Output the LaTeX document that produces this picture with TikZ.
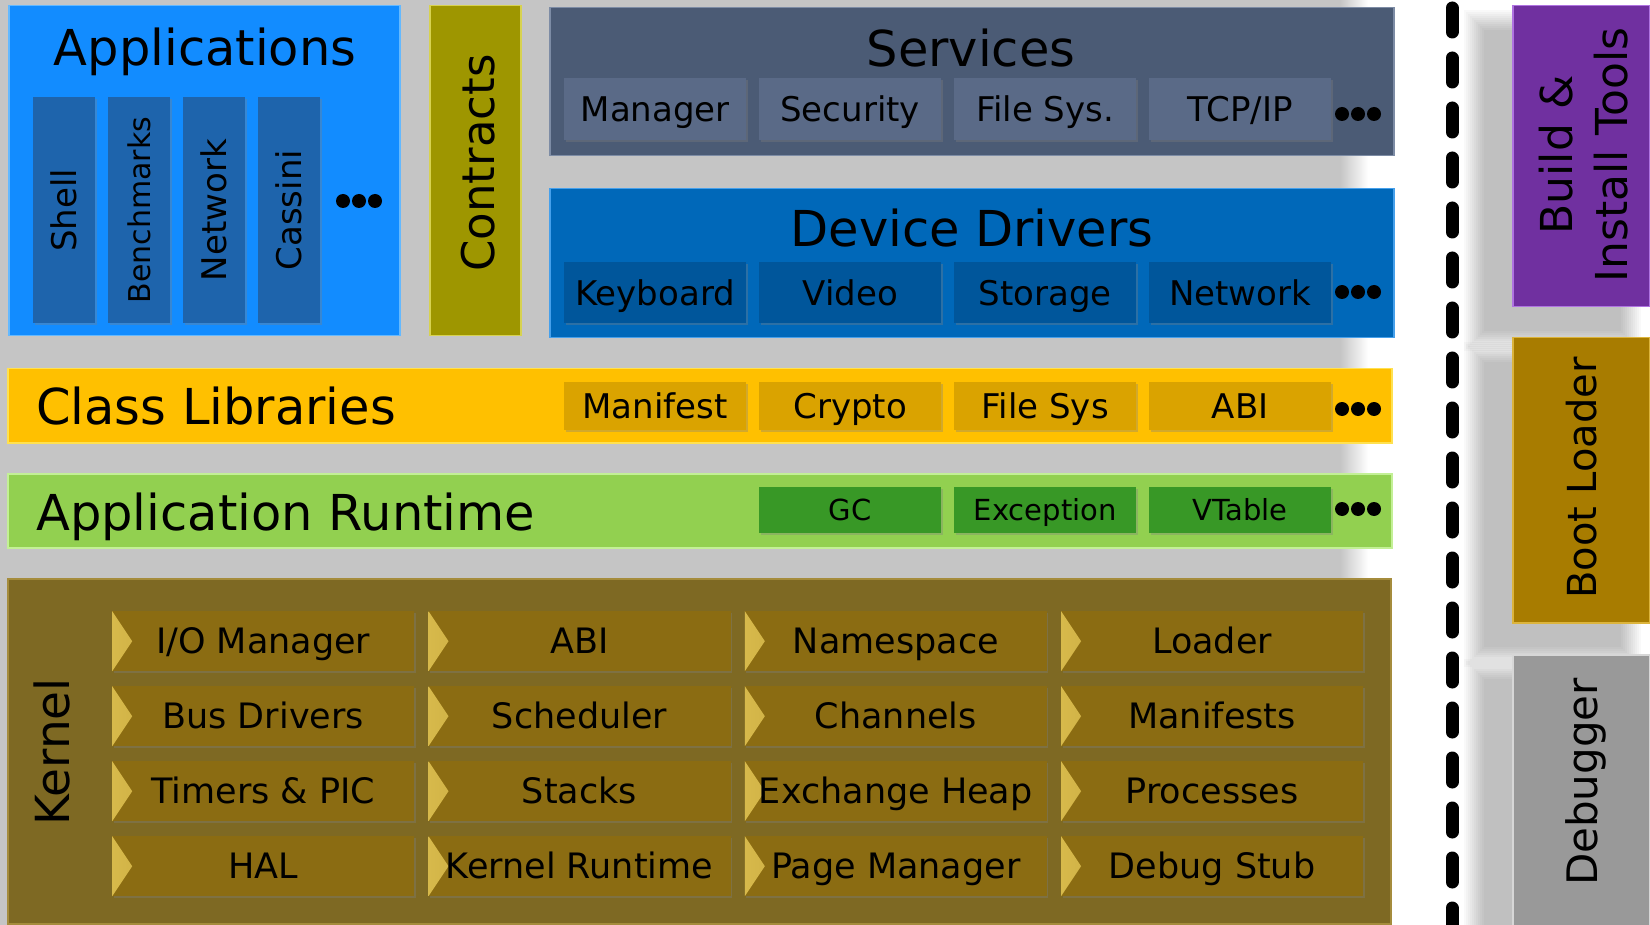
\documentclass[tikz,border=0pt]{standalone}
\usepackage{fontspec}
\setmainfont{DejaVu Sans}
\usepackage{xcolor}
\usetikzlibrary{positioning,shadows}

\definecolor{backgrey}{RGB}{197,197,197}
\definecolor{appblue}{RGB}{18,140,255}
\definecolor{appedge}{RGB}{100,185,255}
\definecolor{appsub}{RGB}{30,100,172}
\definecolor{contr}{RGB}{158,150,0}
\definecolor{contredge}{RGB}{215,210,80}
\definecolor{serv}{RGB}{75,91,117}
\definecolor{servedge}{RGB}{125,140,165}
\definecolor{servsub}{RGB}{90,106,135}
\definecolor{drv}{RGB}{0,104,185}
\definecolor{drvedge}{RGB}{70,160,235}
\definecolor{drvsub}{RGB}{0,86,155}
\definecolor{clib}{RGB}{255,192,0}
\definecolor{clibedge}{RGB}{255,225,80}
\definecolor{clibsub}{RGB}{218,163,0}
\definecolor{rt}{RGB}{146,208,80}
\definecolor{rtedge}{RGB}{195,240,150}
\definecolor{rtsub}{RGB}{56,152,38}
\definecolor{kern}{RGB}{126,105,35}
\definecolor{kernedge}{RGB}{165,140,60}
\definecolor{ksub}{RGB}{139,108,18}
\definecolor{kbevel}{RGB}{215,185,75}
\definecolor{tools}{RGB}{112,48,160}
\definecolor{toolsedge}{RGB}{175,115,225}
\definecolor{boot}{RGB}{168,124,0}
\definecolor{bootedge}{RGB}{220,180,60}
\definecolor{dbg}{RGB}{153,153,153}
\definecolor{dbgedge}{RGB}{215,215,215}

\tikzset{
  % font size plus a text height equal to its cap height
  fs/.code={\tikzset{font=\fontsize{#1}{#1}\selectfont}%
    \pgfmathsetmacro\capht{0.729*#1}\edef\fsht{\capht pt}%
    \tikzset{text height/.expanded=\fsht}},
  layer/.style={anchor=north west, inner sep=0pt, line width=1.5pt},
  part/.style={anchor=north west, inner sep=0pt, minimum width=182pt,
    text depth=0pt, fs=34,
    drop shadow={shadow xshift=1.5pt,shadow yshift=-2pt,opacity=.35}},
  apppart/.style={part, minimum width=62pt, minimum height=226pt, fill=appsub},
  kpart/.style={part, minimum width=302pt, minimum height=60pt, fill=ksub, fs=35,
    path picture={\shade[left color=kbevel,right color=ksub]
      (path picture bounding box.north west) -- ([xshift=20pt]path picture bounding box.west)
      -- (path picture bounding box.south west) -- cycle;}},
  title/.style={inner sep=0pt, text depth=0pt, fs=49.5},
  vtext/.style={title, rotate=90},
  divider/.style={line width=13pt, line cap=round, dash pattern=on 24pt off 26pt},
}

\begin{document}
\begin{tikzpicture}[x=1pt,y=-1pt]
  \useasboundingbox (0,0) rectangle (1650,925);
  \fill[white] (0,0) rectangle (1650,925);

  % grey backdrop behind the stack
  \fill[backgrey] (0,0) rectangle (1340,925);
  \shade[left color=backgrey,right color=white] (1340,0) rectangle (1368,925);

  % soft shadows of the tool boxes
  \foreach \y/\h in {5/301,337/285,654/271}
    \foreach \s in {0,2,...,20}
      \fill[black,opacity=.022] (1464+\s,\y+5+\s) rectangle (1641-\s,\y+\h+45-\s);

  % applications
  \node[layer, fill=appblue, draw=appedge, minimum width=391pt, minimum height=330pt] (apps) at (8,5) {};
  \node[title] (appsT) at (205,47) {Applications};
  \foreach \n/\t/\f [count=\i from 0] in {shell/Shell/34,bench/Benchmarks/30,net/Network/34,cass/Cassini/34}{
    \node[apppart] (\n) at (33+75*\i,97) {};
    \node[vtext, fs=\f] (\n T) at (\n.center) {\t};
  }
  \foreach \dx in {0,16,32}
    \fill (343+\dx,201) circle (7pt);

  % contracts
  \node[layer, fill=contr, draw=contredge, minimum width=91pt, minimum height=330pt] (contracts) at (429,5) {};
  \node[vtext, fs=45] (contractsT) at (478,163) {Contracts};

  % services
  \node[layer, fill=serv, draw=servedge, minimum width=844pt, minimum height=148pt] (services) at (549,7) {};
  \node[title] (servicesT) at (971,48) {Services};
  \foreach \t [count=\i from 0] in {Manager,Security,{File Sys.},{TCP/IP}}
    \node[part, fill=servsub, minimum height=62pt] (serv\i) at (564+195*\i,78) {\t};

  % device drivers
  \node[layer, fill=drv, draw=drvedge, minimum width=844pt, minimum height=149pt] (drivers) at (549,188) {};
  \node[title] (driversT) at (972,228) {Device Drivers};
  \foreach \t [count=\i from 0] in {Keyboard,Video,Storage,Network}
    \node[part, fill=drvsub, minimum height=61pt] (drv\i) at (564+195*\i,262) {\t};

  % class libraries
  \node[layer, fill=clib, draw=clibedge, minimum width=1384pt, minimum height=74pt] (classlib) at (7,368) {};
  \node[title, anchor=west] (classlibT) at (36,406) {Class Libraries};
  \foreach \t [count=\i from 0] in {Manifest,Crypto,{File Sys},ABI}
    \node[part, fill=clibsub, minimum height=48pt] (lib\i) at (564+195*\i,382) {\t};

  % application runtime
  \node[layer, fill=rt, draw=rtedge, minimum width=1384pt, minimum height=74pt] (runtime) at (7,473) {};
  \node[title, anchor=west] (runtimeT) at (36,512) {Application Runtime};
  \foreach \t [count=\i from 1] in {GC,Exception,VTable}
    \node[part, fill=rtsub, minimum height=46pt, fs=29] (rt\i) at (564+195*\i,487) {\t};

  \foreach \y in {114,292,409,509}
    \foreach \dx in {0,16,32}
      \fill (1342+\dx,\y) circle (7pt);

  % kernel
  \node[layer, fill=kern, draw=kernedge, minimum width=1383pt, minimum height=345pt] (kernel) at (7,578) {};
  \node[vtext, fs=47] (kernelT) at (52,752) {Kernel};
  \foreach \t [count=\c from 0] in {{I/O Manager},ABI,Namespace,Loader}
    \node[kpart] (k0\c) at (112+316.3*\c,611) {\t};
  \foreach \t [count=\c from 0] in {{Bus Drivers},Scheduler,Channels,Manifests}
    \node[kpart] (k1\c) at (112+316.3*\c,686) {\t};
  \foreach \t [count=\c from 0] in {{Timers \& PIC},Stacks,{Exchange Heap},Processes}
    \node[kpart] (k2\c) at (112+316.3*\c,761) {\t};
  \foreach \t [count=\c from 0] in {HAL,{Kernel Runtime},{Page Manager},{Debug Stub}}
    \node[kpart] (k3\c) at (112+316.3*\c,836) {\t};

  % divider
  \coordinate (divtop) at (1452,8);
  \coordinate (divbot) at (1452,925);
  \draw[divider] (divtop) -- (divbot);

  % tools
  \node[layer, fill=tools, draw=toolsedge, minimum width=137pt, minimum height=301pt] (build) at (1512,5) {};
  \node[rotate=90, inner sep=0pt, align=center, font=\fontsize{44}{55}\selectfont] (buildT) at (1584,155) {Build \&\\Install Tools};
  \node[layer, fill=boot, draw=bootedge, minimum width=137pt, minimum height=285pt] (bootldr) at (1512,337) {};
  \node[vtext, fs=40] (bootldrT) at (1582,478) {Boot Loader};
  \node[layer, fill=dbg, draw=dbgedge, minimum width=137pt, minimum height=275pt] (debugger) at (1512,654) {};
  \node[vtext, fs=42] (debuggerT) at (1582,782) {Debugger};
\end{tikzpicture}
\end{document}
